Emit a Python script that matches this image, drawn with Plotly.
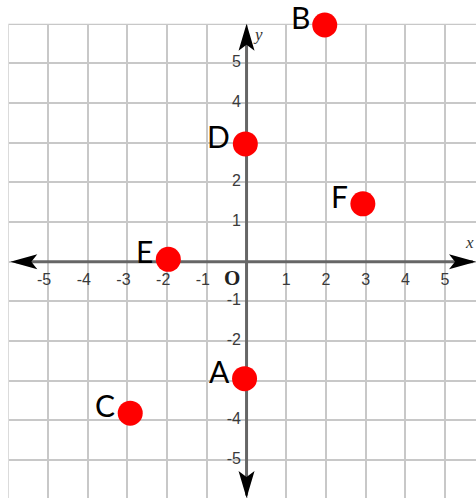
import plotly.graph_objects as go

# points
POINT_LABELS = ["A", "B", "C", "D", "E", "F"]
POINT_X = [-0.05, 1.97, -2.93, -0.03, -1.97, 2.93]
POINT_Y = [-2.95, 5.97, -3.82, 2.97, 0.06, 1.46]

X_TICKS = [-5, -4, -3, -2, -1, 1, 2, 3, 4, 5]
# 3 and -3 are hidden behind D and A in the picture
Y_TICKS = [5, 4, 2, 1, -1, -2, -4, -5]

X_RANGE = [-6.21, 5.78]
Y_RANGE = [-5.96, 6.60]
GRID_MIN, GRID_MAX = -6, 6

RED = "#ff0000"
AXIS = "#666666"
TICK = "#3a3a3a"

fig = go.Figure()

# tick labels (as traces so the red dots sit on top of them);
# negatives nudged left so the digit, not the minus, sits on the grid line
fig.add_trace(go.Scatter(
    x=[v - 0.1 if v < 0 else v for v in X_TICKS], y=[-0.48] * len(X_TICKS), mode="text",
    text=[str(v) for v in X_TICKS], textposition="middle center",
    textfont=dict(family="Liberation Sans", size=16, color=TICK),
    hoverinfo="skip", showlegend=False, cliponaxis=False,
))
fig.add_trace(go.Scatter(
    x=[-0.14] * len(Y_TICKS), y=Y_TICKS, mode="text",
    text=[str(v) for v in Y_TICKS], textposition="middle left",
    textfont=dict(family="Liberation Sans", size=16, color=TICK),
    hoverinfo="skip", showlegend=False, cliponaxis=False,
))

fig.add_trace(go.Scatter(
    x=POINT_X, y=POINT_Y, mode="markers",
    marker=dict(size=25, color=RED, line=dict(width=0)),
    hoverinfo="skip", showlegend=False, cliponaxis=False,
))

for lab, px, py in zip(POINT_LABELS, POINT_X, POINT_Y):
    fig.add_annotation(x=px, y=py, text=lab, showarrow=False,
                       xanchor="right", xshift=-13, yshift=8,
                       font=dict(family="Lato", size=30, color="black"))

# origin + axis names
fig.add_annotation(x=0, y=0, text="<b>O</b>", showarrow=False, xshift=-15, yshift=-16,
                   font=dict(family="Liberation Serif", size=21, color="#222"))
fig.add_annotation(x=0, y=GRID_MAX, text="<i>y</i>", showarrow=False, xshift=11, yshift=-11,
                   font=dict(family="Liberation Serif", size=17, color="#333"))
fig.add_annotation(x=X_RANGE[1], y=0, text="<i>x</i>", showarrow=False, xanchor="right",
                   xshift=0, yshift=19,
                   font=dict(family="Liberation Serif", size=17, color="#333"))

# white out the grid outside -6..6 on the left and top
fig.add_shape(type="rect", x0=-8, x1=GRID_MIN, y0=-8, y1=8, layer="between",
              fillcolor="white", line_width=0)
fig.add_shape(type="rect", x0=-8, x1=8, y0=GRID_MAX, y1=8, layer="between",
              fillcolor="white", line_width=0)

# axis shafts
fig.add_shape(type="line", x0=-5.8, x1=5.7, y0=0, y1=0, layer="between",
              line=dict(color=AXIS, width=3))
fig.add_shape(type="line", x0=0, x1=0, y0=-5.9, y1=5.8, layer="between",
              line=dict(color=AXIS, width=3))

# arrow heads (pixel sized paths anchored at the tips)
heads = {
    "up": (0, GRID_MAX, "M0,0 L-8,-27 L0,-21 L8,-27 Z"),
    "down": (0, Y_RANGE[0], "M0,0 L-8,27 L0,21 L8,27 Z"),
    "left": (-5.95, 0, "M0,0 L27,-7.5 L21,0 L27,7.5 Z"),
    "right": (X_RANGE[1], 0, "M0,0 L-27,-7.5 L-21,0 L-27,7.5 Z"),
}
for xa, ya, path in heads.values():
    fig.add_shape(type="path", xsizemode="pixel", ysizemode="pixel",
                  xanchor=xa, yanchor=ya, path=path, layer="between",
                  fillcolor="black", line_width=0)

fig.update_xaxes(range=X_RANGE, dtick=1, tick0=0, showgrid=True, gridcolor="#c8c8c8",
                 gridwidth=1.5, zeroline=False, showticklabels=False, ticks="",
                 fixedrange=True)
fig.update_yaxes(range=Y_RANGE, dtick=1, tick0=0, showgrid=True, gridcolor="#c8c8c8",
                 gridwidth=1.5, zeroline=False, showticklabels=False, ticks="",
                 fixedrange=True)
fig.update_layout(width=476, height=498, margin=dict(l=0, r=0, t=0, b=0),
                  plot_bgcolor="white", paper_bgcolor="white", showlegend=False)

fig.write_html("out.html", config={"displayModeBar": False},
               post_script="document.body.style.margin='0';")
